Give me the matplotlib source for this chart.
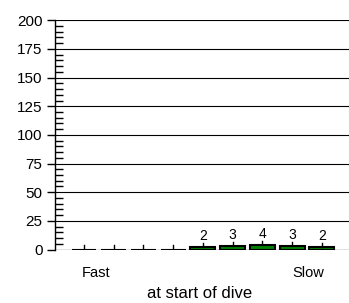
import matplotlib.pyplot as plt
from matplotlib.ticker import MultipleLocator

plt.rcParams['font.family'] = ['Liberation Sans', 'DejaVu Sans']

# bar values (counts), left = fast, right = slow
counts = [0, 0, 0, 0, 2, 3, 4, 3, 2]
err = [3.5] * 9
labels = ['', '', '', '', '2', '3', '4', '3', '2']
yticks = [0, 25, 50, 75, 100, 125, 150, 175, 200]

fig = plt.figure(figsize=(3.49, 3.03), dpi=100)
ax = fig.add_axes([55 / 349, 53.5 / 303, 1 - 55 / 349, 229.2 / 303])

x = list(range(len(counts)))
ax.bar(x, counts, width=0.84, color='green', edgecolor='black', linewidth=1.5, zorder=3)
for xi, c, e, lab in zip(x, counts, err, labels):
    ax.plot([xi, xi], [c, c + e], color='black', lw=1, zorder=4)
    if lab:
        ax.text(xi, c + e + 0.3, lab, ha='center', va='bottom', fontsize=10)

ax.set_xlim(-0.975, 8.91)
ax.set_ylim(0, 200)
ax.set_yticks(yticks)
ax.yaxis.set_minor_locator(MultipleLocator(5))
ax.tick_params(axis='y', which='major', direction='out', length=6, width=1, labelsize=11, pad=3)
ax.tick_params(axis='y', which='minor', direction='in', length=6, width=1)
ax.set_xticks([])
for sp in ['top', 'right', 'bottom']:
    ax.spines[sp].set_visible(False)
ax.spines['left'].set_linewidth(1)

for yv in yticks[1:]:
    ax.axhline(yv, color='black', lw=0.8, zorder=1)
ax.axhline(0, color='dimgray', lw=1, zorder=2)

ax.text(0.4, -14, 'Fast', ha='center', va='top', fontsize=10.5)
ax.text(7.53, -14, 'Slow', ha='center', va='top', fontsize=10.5)
ax.text(3.9, -38, 'at start of dive', ha='center', va='center', fontsize=12)

fig.savefig('out.png', dpi=100)
